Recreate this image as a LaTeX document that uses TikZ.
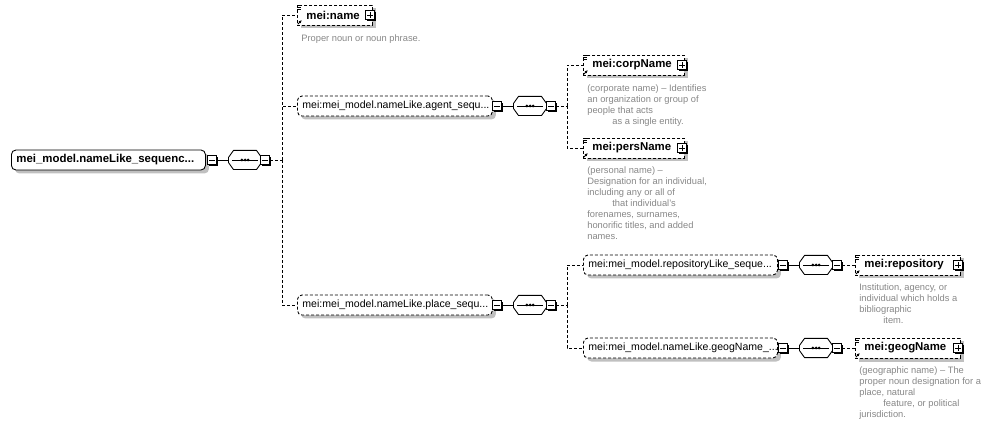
\documentclass[tikz,border=0pt]{standalone}
\usepackage{fontspec}
\setmainfont{Liberation Sans}
\usetikzlibrary{arrows.meta,shadows}
\definecolor{xsgrey}{RGB}{135,135,135}
\definecolor{xsshadow}{RGB}{192,192,192}
\tikzset{
  grp/.style={draw, line width=0.5pt, rounded corners=0.9mm, fill=white, align=left,
              inner xsep=1mm, inner ysep=0pt, minimum height=4mm, anchor=west,
              font=\fontsize{6}{7}\selectfont,
              drop shadow={shadow xshift=0.7mm, shadow yshift=-0.7mm, fill=xsshadow, opacity=1}},
  grpref/.style={grp, dash pattern=on 0.6mm off 0.4mm},
  elem/.style={grpref, rounded corners=0pt, font=\bfseries\fontsize{6.5}{7.5}\selectfont,
               execute at begin node=\hspace*{0.8mm}},
  seqbox/.style={rectangle, minimum width=6.8mm, minimum height=4mm, inner sep=0pt,
                 path picture={
                   \draw[line width=0.5pt, fill=white]
                     ([shift={(1.1mm,-0.25pt)}]path picture bounding box.north west)
                     -- ([shift={(-1.1mm,-0.25pt)}]path picture bounding box.north east)
                     -- ([shift={(-0.25pt,-1.5mm)}]path picture bounding box.north east)
                     -- ([shift={(-0.25pt,1.5mm)}]path picture bounding box.south east)
                     -- ([shift={(-1.1mm,0.25pt)}]path picture bounding box.south east)
                     -- ([shift={(1.1mm,0.25pt)}]path picture bounding box.south west)
                     -- ([shift={(0.25pt,1.5mm)}]path picture bounding box.south west)
                     -- ([shift={(0.25pt,-1.5mm)}]path picture bounding box.north west) -- cycle;
                   \draw[line width=0.5pt] ([xshift=-2.6mm]path picture bounding box.center) -- ([xshift=2.6mm]path picture bounding box.center);
                   \foreach \dx in {-0.62,0,0.62}
                     \fill ([xshift=\dx mm]path picture bounding box.center) circle (0.3mm);}},
  sqm/.style={draw, line width=0.5pt, fill=white, minimum size=1.8mm, inner sep=0pt,
              drop shadow={shadow xshift=0.25mm, shadow yshift=-0.25mm, fill=black, opacity=1},
              path picture={\draw[line width=0.5pt] ([xshift=0.35mm]path picture bounding box.west) -- ([xshift=-0.35mm]path picture bounding box.east);}},
  sqp/.style={sqm,
              path picture={\draw[line width=0.5pt] ([xshift=0.35mm]path picture bounding box.west) -- ([xshift=-0.35mm]path picture bounding box.east);
                            \draw[line width=0.5pt] ([yshift=-0.35mm]path picture bounding box.north) -- ([yshift=0.35mm]path picture bounding box.south);}},
  con/.style={line width=0.5pt},
  dcon/.style={con, dash pattern=on 0.6mm off 0.4mm},
  desc/.style={font=\fontsize{5.3}{6.3}\selectfont, text=xsgrey, align=left, anchor=north west, inner sep=0pt}
}
\newcommand{\refmark}[1]{%
  \foreach \yy in {0.1,0.5,0.9}
    \draw[line width=0.4pt] ([xshift=0.05mm,yshift=-\yy mm]#1.north west) -- ++(0.8mm,0);
  \draw[line width=0.5pt,-{Latex[length=0.6mm,width=0.6mm]}] ([xshift=0.15mm,yshift=0.25mm]#1.south west) -- ++(0.8mm,0.8mm);
}

\begin{document}
\begin{tikzpicture}[x=0.2mm, y=-0.2mm]
  \useasboundingbox (0,0) rectangle (989,424);
  % root group
  \node[grp, font=\bfseries\fontsize{6.5}{7.5}\selectfont, text width=36.8mm] (root) at (11,160) {mei\_model.nameLike\_sequenc...};
  \node[sqm] (rootm) at (212,160) {};
  \node[seqbox] (seq0) at (245,160) {};
  \node[sqm] (seq0m) at (265,160) {};
  \coordinate (sp0) at (282,160);
  \draw[con] (rootm) -- (seq0);
  \draw[dcon] (seq0m) -- (sp0);

  % first level
  \node[elem, text width=13mm] (name) at (297,15) {mei:name};
  \node[sqp] (namep) at (370,15) {};
  \refmark{name}
  \node[desc] (named) at (301,34) {Proper noun or noun phrase.};

  \node[grpref, text width=37mm] (agent) at (297,106) {mei:mei\_model.nameLike.agent\_sequ...};
  \node[sqm] (agentm) at (497,106) {};
  \node[seqbox] (seq1) at (530,106) {};
  \node[sqm] (seq1m) at (551,106) {};
  \coordinate (sp1) at (567,106);

  \node[grpref, text width=37mm] (place) at (297,305) {mei:mei\_model.nameLike.place\_sequ...};
  \node[sqm] (placem) at (497,305) {};
  \node[seqbox] (seq2) at (530,305) {};
  \node[sqm] (seq2m) at (551,305) {};
  \coordinate (sp2) at (567,305);

  \draw[dcon] (sp0) |- (name);
  \draw[dcon] (sp0) |- (agent);
  \draw[dcon] (sp0) |- (place);
  \draw[con] (agentm) -- (seq1);
  \draw[dcon] (seq1m) -- (sp1);
  \draw[con] (placem) -- (seq2);
  \draw[dcon] (seq2m) -- (sp2);

  % agent branch
  \node[elem, text width=18.2mm] (corp) at (583,65) {mei:corpName};
  \node[sqp] (corpp) at (682,65) {};
  \refmark{corp}
  \node[desc] (corpd) at (587,84) {(corporate name) -- Identifies\\an organization or group of\\people that acts\\\hspace*{5mm}as a single entity.};

  \node[elem, text width=18.2mm] (pers) at (583,148) {mei:persName};
  \node[sqp] (persp) at (682,148) {};
  \refmark{pers}
  \node[desc] (persd) at (587,166) {(personal name) --\\Designation for an individual,\\including any or all of\\\hspace*{5mm}that individual's\\forenames, surnames,\\honorific titles, and added\\names.};

  \draw[dcon] (sp1) |- (corp);
  \draw[dcon] (sp1) |- (pers);

  % place branch
  \node[grpref, text width=36.8mm] (repog) at (583,265) {mei:mei\_model.repositoryLike\_seque...};
  \node[sqm] (repogm) at (783,265) {};
  \node[seqbox] (seq3) at (816,265) {};
  \node[sqm] (seq3m) at (837,265) {};
  \node[elem, text width=19mm] (repo) at (855,265) {mei:repository};
  \node[sqp] (repop) at (958,265) {};
  \refmark{repo}
  \node[desc] (repod) at (859,283) {Institution, agency, or\\individual which holds a\\bibliographic\\\hspace*{4.8mm}item.};

  \node[grpref, text width=36.8mm] (geogg) at (583,348) {mei:mei\_model.nameLike.geogName\_...};
  \node[sqm] (geoggm) at (783,348) {};
  \node[seqbox] (seq4) at (816,348) {};
  \node[sqm] (seq4m) at (837,348) {};
  \node[elem, text width=19mm] (geog) at (855,348) {mei:geogName};
  \node[sqp] (geogp) at (958,348) {};
  \refmark{geog}
  \node[desc] (geogd) at (859,366) {(geographic name) -- The\\proper noun designation for a\\place, natural\\\hspace*{4.8mm}feature, or political\\jurisdiction.};

  \draw[dcon] (sp2) |- (repog);
  \draw[dcon] (sp2) |- (geogg);
  \draw[con] (repogm) -- (seq3);
  \draw[dcon] (seq3m) -- (repo);
  \draw[con] (geoggm) -- (seq4);
  \draw[dcon] (seq4m) -- (geog);
\end{tikzpicture}
\end{document}
